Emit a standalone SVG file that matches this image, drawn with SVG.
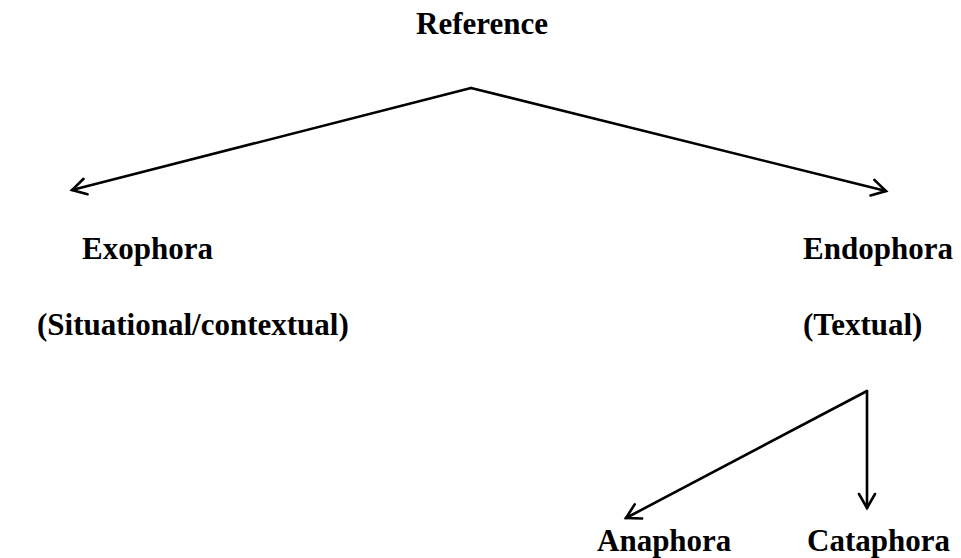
<svg xmlns="http://www.w3.org/2000/svg" width="961" height="558" viewBox="0 0 961 558">
<style>
.t{font-family:"Liberation Serif","Times New Roman",serif;font-weight:bold;font-size:31px;fill:#000}
.c{stroke:#000;stroke-width:2.6;fill:none;stroke-linecap:round}
</style>
<defs>
<marker id="a" markerUnits="userSpaceOnUse" markerWidth="30" markerHeight="30" viewBox="-20 -15 30 30" refX="0" refY="0" orient="auto">
<path d="M-14,-8 L0,0 L-14,8" fill="none" stroke="#000" stroke-width="2.6" stroke-linecap="round" stroke-linejoin="miter"/>
</marker>
</defs>
<rect width="961" height="558" fill="#fff"/>
<g id="connectors">
<line class="c" x1="471" y1="88" x2="72" y2="190" marker-end="url(#a)"/>
<line class="c" x1="471" y1="88" x2="886" y2="191" marker-end="url(#a)"/>
<line class="c" x1="867" y1="391" x2="626" y2="518" marker-end="url(#a)"/>
<line class="c" x1="867" y1="391" x2="867" y2="508" marker-end="url(#a)"/>
</g>
<g id="reference"><text class="t" x="416" y="34">Reference</text></g>
<g id="exophora"><text class="t" x="82" y="259">Exophora</text><text class="t" x="37" y="335">(Situational/contextual)</text></g>
<g id="endophora"><text class="t" x="803" y="259">Endophora</text><text class="t" x="803" y="335">(Textual)</text></g>
<g id="anaphora"><text class="t" x="597" y="551">Anaphora</text></g>
<g id="cataphora"><text class="t" x="807" y="551">Cataphora</text></g>
</svg>
